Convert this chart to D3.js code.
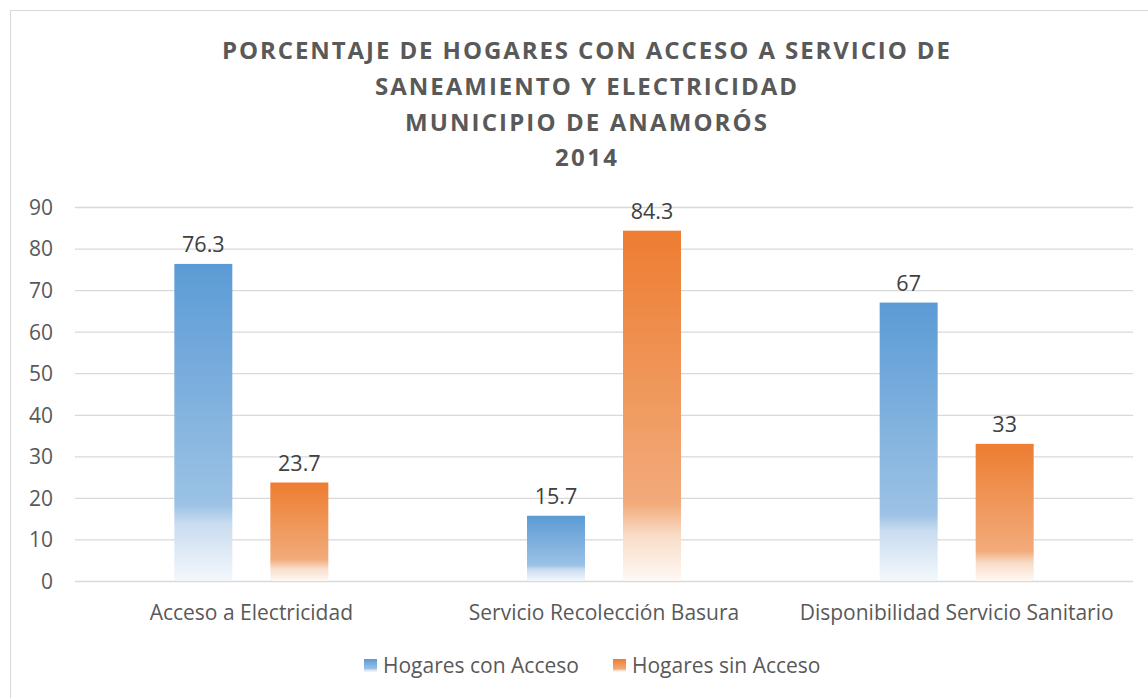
<!DOCTYPE html>
<html>
<head>
<meta charset="utf-8">
<script src="https://cdn.jsdelivr.net/npm/d3@7"></script>
<style>
  html, body { margin: 0; padding: 0; background: #fff; }
  svg { display: block; }
  text { font-family: "Open Sans", "DejaVu Sans", sans-serif; }
</style>
</head>
<body>
<svg id="chart" width="1148" height="698"></svg>
<script>
const titleLines = ["PORCENTAJE DE HOGARES CON ACCESO A SERVICIO DE", "SANEAMIENTO Y ELECTRICIDAD", "MUNICIPIO DE ANAMORÓS", "2014"];
const categories = ["Acceso a Electricidad", "Servicio Recolección Basura", "Disponibilidad Servicio Sanitario"];
const seriesNames = ["Hogares con Acceso", "Hogares sin Acceso"];
const conAcceso = [76.3, 15.7, 67];
const sinAcceso = [23.7, 84.3, 33];
const yTicks = [0, 10, 20, 30, 40, 50, 60, 70, 80, 90];
const seriesColors = ["#5B9BD5", "#ED7D31"];

const seriesValues = [conAcceso, sinAcceso];
const svg = d3.select("#chart");
const W = 1148, H = 698;

// chart border
svg.append("rect").attr("x", 10.5).attr("y", 10.5).attr("width", W).attr("height", H)
  .attr("fill", "#fff").attr("stroke", "#d9d9d9").attr("stroke-width", 1);

// gradients
const defs = svg.append("defs");
const gradStops = [
  [[0, "#5B9BD5"], [0.76, "#9CC2E5"], [0.82, "#C9DCF0"], [1, "#F4F8FC"]],
  [[0, "#ED7D31"], [0.78, "#F2AB7B"], [0.87, "#F9DCC8"], [1, "#FEF8F4"]]
];
gradStops.forEach((stops, i) => {
  const g = defs.append("linearGradient").attr("id", "grad" + i)
    .attr("x1", 0).attr("y1", 0).attr("x2", 0).attr("y2", 1);
  stops.forEach(s => g.append("stop").attr("offset", s[0]).attr("stop-color", s[1]));
});

// title
const titleG = svg.append("g");
const titleY = [59, 95, 130.5, 166];
const titleW = [728, 422, 362, 62];
titleLines.forEach((t, i) => {
  titleG.append("text").attr("x", 586).attr("y", titleY[i])
    .attr("text-anchor", "middle").attr("fill", "#595959")
    .attr("font-size", 24).attr("font-weight", "bold")
    .attr("textLength", titleW[i]).attr("lengthAdjust", "spacing")
    .text(t);
});

// scales
const plotL = 75, plotR = 1133, plotT = 207, plotB = 581;
const y = d3.scaleLinear().domain([0, 90]).range([plotB, plotT]);
const x0 = d3.scaleBand().domain(categories).range([plotL, plotR]).padding(0);
const groupW = 154;
const x1 = d3.scaleBand().domain(seriesNames).range([0, groupW]).paddingInner(0.396).paddingOuter(0);

// gridlines
const yAxis = d3.axisLeft(y).tickValues(yTicks).tickSize(-(plotR - plotL)).tickPadding(22);
const ag = svg.append("g").attr("transform", `translate(${plotL},0)`).call(yAxis);
ag.select(".domain").remove();
ag.selectAll(".tick line").attr("stroke", "#d9d9d9").attr("stroke-width", 1.3);
ag.selectAll(".tick text").attr("fill", "#595959").attr("font-size", 21)
  .attr("font-family", "'Open Sans', sans-serif").attr("dy", "0.35em");

// bars
const groups = svg.append("g").selectAll("g").data(categories).join("g")
  .attr("transform", d => `translate(${x0(d) + (x0.bandwidth() - groupW) / 2},0)`);
groups.each(function(cat, ci) {
  const g = d3.select(this);
  seriesNames.forEach((s, si) => {
    const v = seriesValues[si][ci];
    g.append("rect").attr("x", x1(s)).attr("y", y(v))
      .attr("width", x1.bandwidth()).attr("height", y(0) - y(v))
      .attr("fill", `url(#grad${si})`);
    g.append("text").attr("x", x1(s) + x1.bandwidth() / 2).attr("y", y(v) - 12)
      .attr("text-anchor", "middle").attr("fill", "#404040").attr("font-size", 21.5)
      .text(v);
  });
});

// category labels
svg.append("g").selectAll("text").data(categories).join("text")
  .attr("x", d => x0(d) + x0.bandwidth() / 2).attr("y", 619.5)
  .attr("text-anchor", "middle").attr("fill", "#595959").attr("font-size", 21)
  .text(d => d);

// legend
const legendX = [364, 613];
const lg = svg.append("g").selectAll("g").data(seriesNames).join("g")
  .attr("transform", (d, i) => `translate(${legendX[i]},659)`);
lg.append("rect").attr("width", 13).attr("height", 13).attr("fill", (d, i) => `url(#grad${i})`);
lg.append("text").attr("x", 19).attr("y", 14).attr("fill", "#595959").attr("font-size", 21).text(d => d);
</script>
</body>
</html>
